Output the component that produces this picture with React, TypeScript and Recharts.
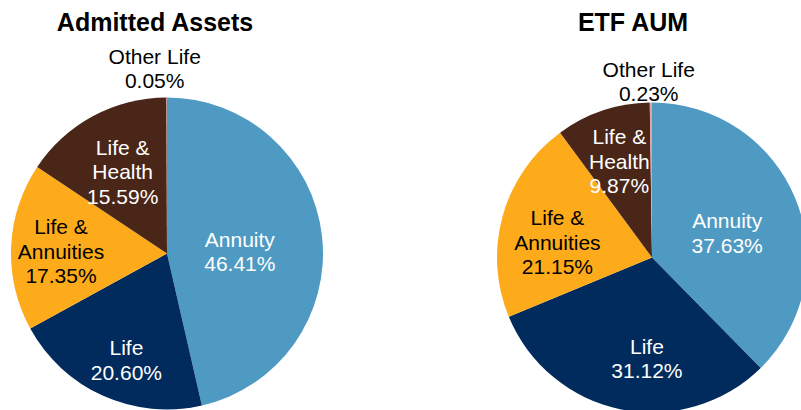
import { PieChart, Pie, Cell } from 'recharts';

const categories = ['Annuity', 'Life', 'Life & Annuities', 'Life & Health', 'Other Life'];
const admittedAssets = [46.41, 20.6, 17.35, 15.59, 0.05];
const etfAum = [37.63, 31.12, 21.15, 9.87, 0.23];

const colors = ['#4F9AC3', '#002B5C', '#FDAB1B', '#4A2618', '#E4A0A8'];
const labelColors = ['#fff', '#fff', '#000', '#fff', '#000'];

// label placement: radius as a fraction of the pie radius, plus small nudges
const leftLabels = [
  { r: 0.47, dx: 0, dy: 6 },
  { r: 0.73, dx: 6, dy: 2 },
  { r: 0.68, dx: 0, dy: 2 },
  { r: 0.6, dx: 0, dy: 0 },
  { r: 1.19, dx: -12, dy: 0 },
];
const rightLabels = [
  { r: 0.51, dx: 2, dy: 5 },
  { r: 0.65, dx: 15, dy: 2 },
  { r: 0.62, dx: -2, dy: 10 },
  { r: 0.66, dx: 0, dy: 0 },
  { r: 1.14, dx: -2, dy: 0 },
];

const leftData = categories.map((name, i) => ({ name, value: admittedAssets[i] }));
const rightData = categories.map((name, i) => ({ name, value: etfAum[i] }));

const RAD = Math.PI / 180;
const FONT = 'Liberation Sans, Arial, sans-serif';

function makeLabel(place: { r: number; dx: number; dy: number }[]) {
  return (props: any) => {
    const { cx, cy, midAngle, outerRadius, index } = props;
    const p = place[index];
    const name = categories[index];
    const val = props.value.toFixed(2) + '%';
    const x = cx + outerRadius * p.r * Math.cos(-midAngle * RAD) + p.dx;
    const y = cy + outerRadius * p.r * Math.sin(-midAngle * RAD) + p.dy;
    const lines = name.includes('&') ? name.replace('& ', '&\n').split('\n') : [name];
    lines.push(val);
    const lh = 24.5;
    const top = y - ((lines.length - 1) * lh) / 2;
    return (
      <text
        x={x}
        y={top}
        textAnchor="middle"
        dominantBaseline="central"
        fill={labelColors[index]}
        fontSize={21}
        fontFamily={FONT}
      >
        {lines.map((l, k) => (
          <tspan key={k} x={x} y={top + k * lh}>
            {l}
          </tspan>
        ))}
      </text>
    );
  };
}

const titleStyle: React.CSSProperties = {
  position: 'absolute',
  top: 7,
  fontFamily: FONT,
  fontWeight: 'bold',
  fontSize: 25,
  color: '#000',
  textAlign: 'center',
  width: 300,
  lineHeight: '30px',
};

export default function App() {
  return (
    <div
      style={{
        position: 'absolute',
        left: 0,
        top: 0,
        width: 801,
        height: 410,
        overflow: 'hidden',
        background: '#fff',
      }}
    >
      <div style={{ ...titleStyle, left: 155 - 150 }}>Admitted Assets</div>
      <div style={{ ...titleStyle, left: 633 - 150 }}>ETF AUM</div>
      <PieChart
        width={801}
        height={410}
        margin={{ top: 0, right: 0, bottom: 0, left: 0 }}
        style={{ position: 'absolute', left: 0, top: 0 }}
      >
        <Pie
          data={leftData}
          dataKey="value"
          nameKey="name"
          cx={167}
          cy={253.5}
          outerRadius={156}
          startAngle={90}
          endAngle={-270}
          stroke="none"
          labelLine={false}
          label={makeLabel(leftLabels)}
          isAnimationActive={false}
        >
          {leftData.map((d, i) => (
            <Cell key={d.name} fill={colors[i]} />
          ))}
        </Pie>
        <Pie
          data={rightData}
          dataKey="value"
          nameKey="name"
          cx={652}
          cy={257.5}
          outerRadius={155}
          startAngle={90}
          endAngle={-270}
          stroke="none"
          labelLine={false}
          label={makeLabel(rightLabels)}
          isAnimationActive={false}
        >
          {rightData.map((d, i) => (
            <Cell key={d.name} fill={colors[i]} />
          ))}
        </Pie>
      </PieChart>
    </div>
  );
}
